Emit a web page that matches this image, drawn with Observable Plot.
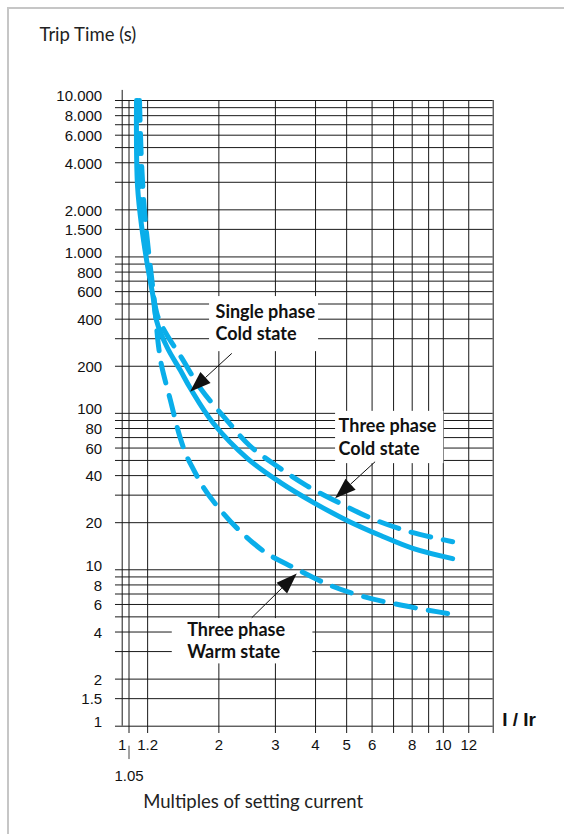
<!DOCTYPE html>
<html><head><meta charset="utf-8">
<script src="https://cdn.jsdelivr.net/npm/d3@7"></script>
<script src="https://cdn.jsdelivr.net/npm/@observablehq/plot@0.6"></script>
<style>
html,body{margin:0;padding:0;background:#fff;}
#wrap{position:relative;width:564px;height:834px;overflow:hidden;}
#wrap svg{position:absolute;left:0;top:0;}
#frame{position:absolute;left:7px;top:7px;width:700px;height:900px;border-left:2px solid #c6c6c6;border-top:2px solid #c6c6c6;pointer-events:none;}
</style></head><body><div id="wrap"><div id="frame"></div></div>
<script>
// ---- axes / grid ----
const xDomain = [1, 14.3];
const yDomain = [1, 10000];
const xGridValues = [1.05, 1.2, 2, 3, 4, 5, 6, 7, 8, 9, 10, 12, 14.3];
const yGridValues = [10000,9000,8000,7000,6000,5000,4000,3000,2000,1500,1000,900,800,700,600,500,400,300,200,100,90,80,70,60,50,40,30,20,10,9,8,7,6,5,4,3,2,1.5,1];
const yTickValues = [10000,8000,6000,4000,2000,1500,1000,800,600,400,200,100,80,60,40,20,10,8,6,4,2,1.5,1];
const yTickLabels = ["10.000","8.000","6.000","4.000","2.000","1.500","1.000","800","600","400","200","100","80","60","40","20","10","8","6","4","2","1.5","1"];
const yDecades = [10000, 1000, 100, 10, 1];
const xTickValues = [1,1.2,2,3,4,5,6,8,10,12];
const xTickLabels = ["1","1.2","2","3","4","5","6","8","10","12"];
const extraXTick = [1.05];
const extraXTickLabel = ["1.05"];

// ---- curves: [I/Ir, trip time s] ----
const singlePhaseCold = [[1.108,10000],[1.116,2861],[1.154,1475],[1.196,907],[1.249,550],[1.279,392],[1.381,263.5],[1.519,187.8],[1.632,144],[1.925,86.1],[2.457,51.4],[3.113,36.1],[3.945,26.9],[5.03,20.6],[6.38,16.55],[8.08,13.66],[10.69,11.79]];
const threePhaseCold = [[1.116,10000],[1.128,4790],[1.140,2658],[1.161,1475],[1.199,948],[1.243,610],[1.288,422],[1.364,328.6],[1.530,227],[1.754,144],[2.083,94],[2.492,62.3],[3.046,45.7],[3.751,34.5],[4.787,26.5],[6.11,20.9],[7.85,17.5],[9.95,15.6],[10.69,15.1]];
const threePhaseWarm = [[1.132,10000],[1.148,4134],[1.173,1980],[1.207,1099],[1.243,656],[1.270,422],[1.297,271],[1.326,202],[1.414,120.7],[1.508,72.1],[1.586,53.7],[1.668,43.7],[1.792,33.5],[1.925,27.3],[2.270,18.6],[2.795,12.9],[3.417,10.33],[4.457,7.93],[5.645,6.74],[7.36,5.95],[9.53,5.40],[10.31,5.25]];

// ---- annotations (data space) ----
const annotationLabels = ["Single phase\nCold state", "Three phase\nCold state", "Three phase\nWarm state"];
const annotationTextX = [1.953, 4.719, 1.594];
const annotationTextY = [383.6, 71.1, 3.58];
const boxX1 = [1.871, 4.618, 1.432];
const boxX2 = [4.088, 10.04, 3.925];
const boxY1 = [558, 103, 4.876];
const boxY2 = [248, 47.7, 2.502];
const arrowFromX = [2.202, 6.153, 2.541];
const arrowFromY = [240, 48.7, 4.9];
const arrowToX = [1.632, 4.618, 3.51];
const arrowToY = [136.4, 28.4, 9.41];

const titleText = "Trip Time (s)";
const xLabelText = "Multiples of setting current";
const xUnitText = "I / Ir";

const blue = "#0aaeea";
const ink = "#111";
const rounded = "Lato, 'Open Sans', sans-serif";
const arial = "'Liberation Sans', Arial, sans-serif";

function arrowsMark(index, scales) {
  const ns = "http://www.w3.org/2000/svg";
  const g = document.createElementNS(ns, "g");
  for (let i = 0; i < arrowFromX.length; i++) {
    const x1 = scales.x(arrowFromX[i]), y1 = scales.y(arrowFromY[i]);
    const x2 = scales.x(arrowToX[i]), y2 = scales.y(arrowToY[i]);
    const a = Math.atan2(y2 - y1, x2 - x1), L = 21, w = 7.5;
    const bx = x2 - L * Math.cos(a), by = y2 - L * Math.sin(a);
    const ln = document.createElementNS(ns, "line");
    ln.setAttribute("x1", x1); ln.setAttribute("y1", y1);
    ln.setAttribute("x2", bx); ln.setAttribute("y2", by);
    ln.setAttribute("stroke", ink); ln.setAttribute("stroke-width", 1);
    g.appendChild(ln);
    const p = document.createElementNS(ns, "polygon");
    p.setAttribute("points", [
      [x2, y2],
      [bx + w * Math.sin(a), by - w * Math.cos(a)],
      [bx - w * Math.sin(a), by + w * Math.cos(a)]
    ].map(q => q.join(",")).join(" "));
    p.setAttribute("fill", ink);
    g.appendChild(p);
  }
  return g;
}

const idx = d3.range(annotationLabels.length);
const line = (data, extra) => Plot.line(data, Object.assign({x: d => d[0], y: d => d[1], stroke: blue, strokeWidth: 5, curve: "catmull-rom"}, extra));
const yLabelOpts = {y: d => d, text: (d, i) => yTickLabels[i], frameAnchor: "left", dx: -20, textAnchor: "end", lineAnchor: "middle", fontFamily: arial, fontSize: 15, fill: ink};

const plot = Plot.plot({
  width: 564, height: 834,
  marginLeft: 121.7, marginRight: 71.3, marginTop: 100, marginBottom: 108.3,
  x: {type: "log", domain: xDomain, axis: null},
  y: {type: "log", domain: yDomain, axis: null},
  style: {fontFamily: arial, fontSize: "15px", color: ink, background: "transparent", overflow: "visible"},
  marks: [
    Plot.ruleY(yGridValues, {y: d => d, x1: 0.953, x2: xDomain[1], stroke: "#1a1a1a", strokeWidth: 1}),
    Plot.ruleX(xGridValues, {x: d => d, y1: yDomain[1], y2: 0.898, stroke: "#1a1a1a", strokeWidth: 1}),
    Plot.ruleX([xDomain[0]], {x: d => d, y1: 11600, y2: yDomain[0], stroke: "#1a1a1a", strokeWidth: 1}),
    Plot.ruleX(extraXTick, {x: d => d, y1: 0.745, y2: 0.612, stroke: "#444", strokeWidth: 1}),
    Plot.text(yTickValues, {...yLabelOpts, filter: d => yDecades.includes(d), dy: -4}),
    Plot.text(yTickValues, {...yLabelOpts, filter: d => !yDecades.includes(d), dy: 1}),
    Plot.text(xTickValues, {x: d => d, text: (d, i) => xTickLabels[i], frameAnchor: "bottom", dy: 18.5, lineAnchor: "middle", fontFamily: arial, fontSize: 15, fill: ink}),
    Plot.text(extraXTick, {x: d => d, text: (d, i) => extraXTickLabel[i], frameAnchor: "bottom", dy: 50, lineAnchor: "middle", fontFamily: arial, fontSize: 15, fill: ink}),
    line(singlePhaseCold, {}),
    line(threePhaseCold, {strokeDasharray: "20,13"}),
    line(threePhaseWarm, {strokeDasharray: "20,13"}),
    Plot.rect(idx, {x1: i => boxX1[i], x2: i => boxX2[i], y1: i => boxY1[i], y2: i => boxY2[i], fill: "white"}),
    Plot.text(idx, {x: i => annotationTextX[i], y: i => annotationTextY[i], text: i => annotationLabels[i], textAnchor: "start", lineAnchor: "middle", lineHeight: 1.25, fontFamily: rounded, fontWeight: "bold", fontSize: 18, fill: ink}),
    arrowsMark,
    Plot.text([titleText], {text: d => d, frameAnchor: "top-left", dx: -82.7, dy: -65, textAnchor: "start", lineAnchor: "middle", fontFamily: rounded, fontSize: 18.5, fill: "#222"}),
    Plot.text([xLabelText], {text: d => d, frameAnchor: "bottom-left", dx: 21, dy: 76, textAnchor: "start", lineAnchor: "middle", fontFamily: rounded, fontSize: 18.5, fill: "#222"}),
    Plot.text([xUnitText], {text: d => d, frameAnchor: "bottom-right", dx: 9, dy: 0, textAnchor: "start", lineAnchor: "bottom", fontFamily: arial, fontWeight: "bold", fontSize: 19, fill: ink})
  ]
});
document.getElementById("wrap").insertBefore(plot, document.getElementById("frame"));
</script></body></html>
